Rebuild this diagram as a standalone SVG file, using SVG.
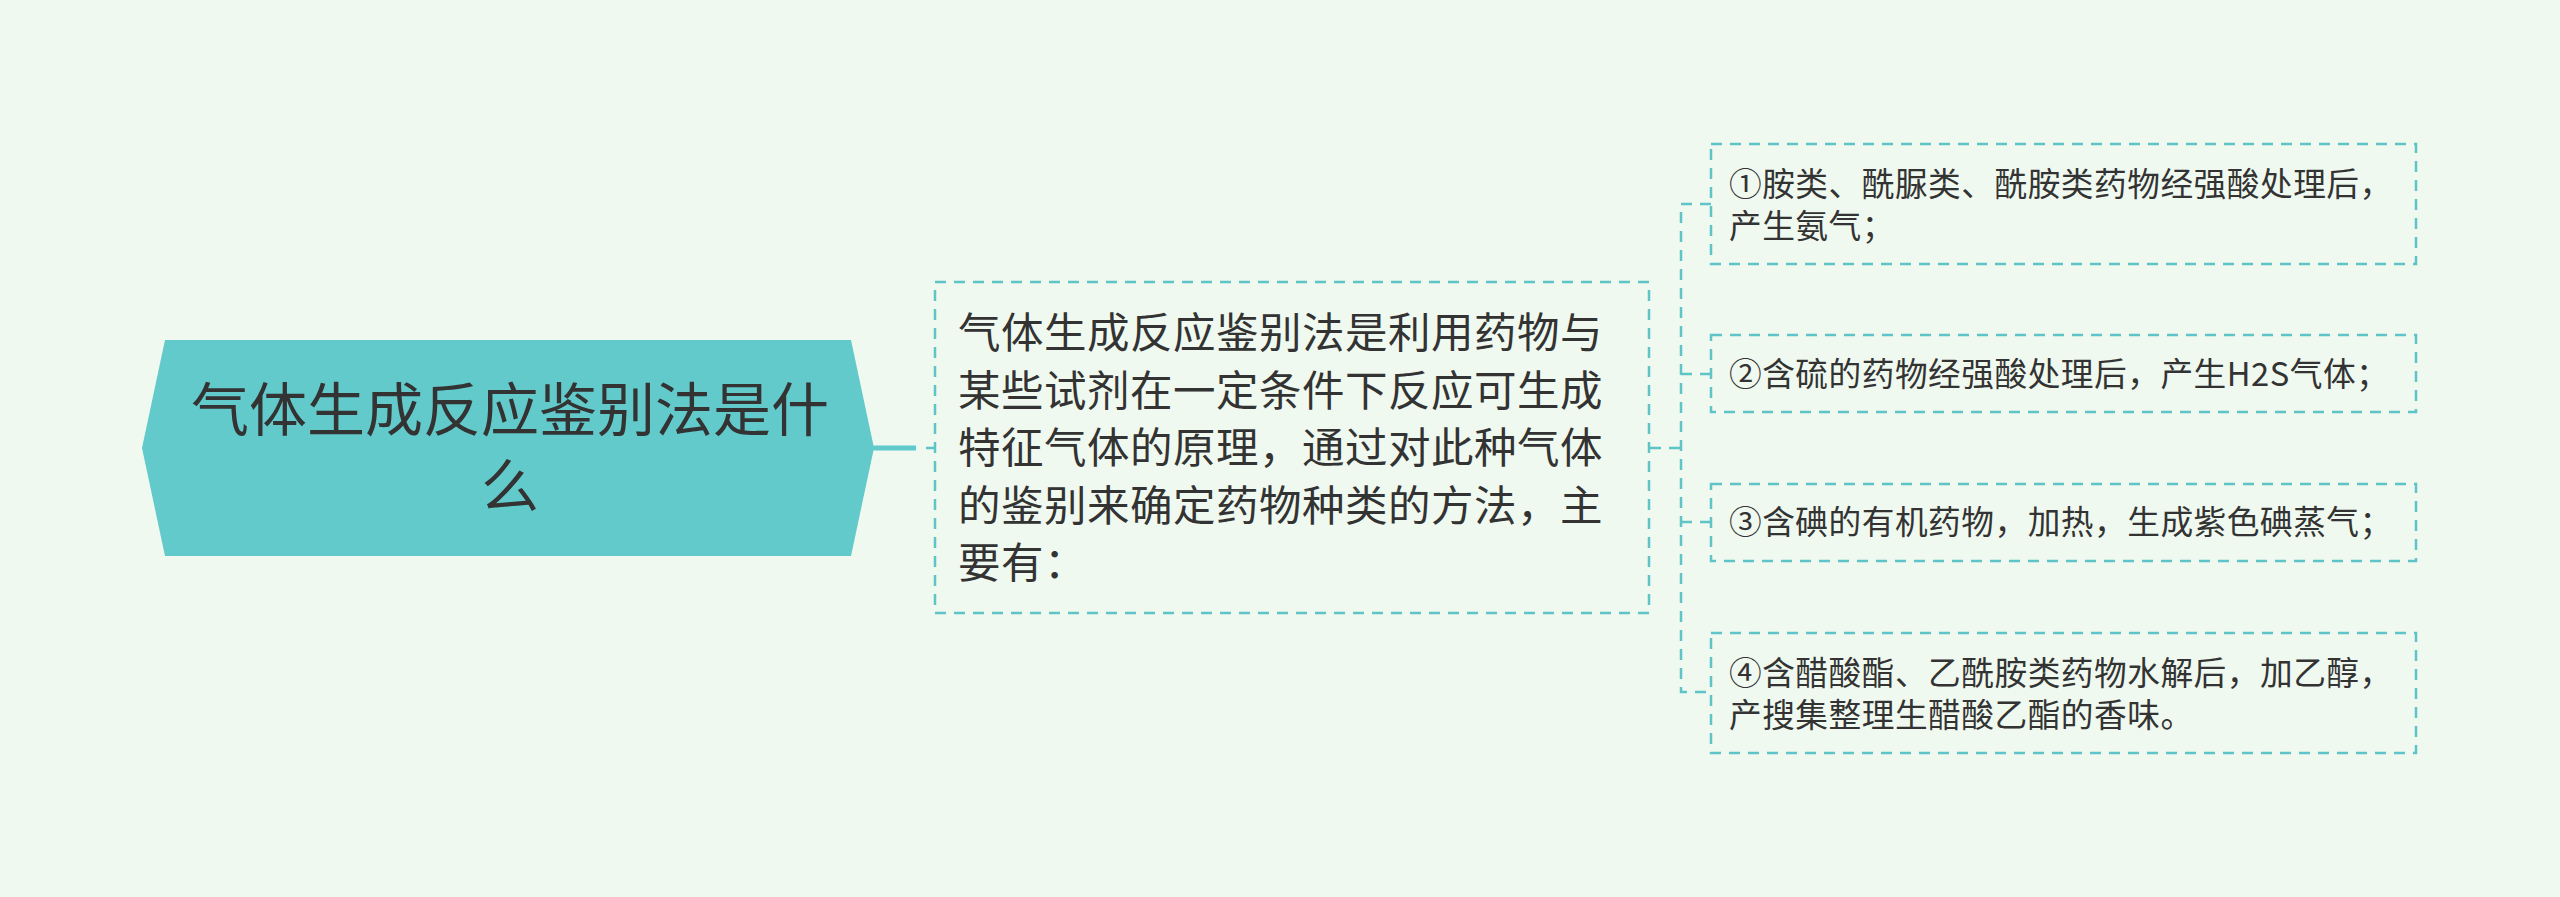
<svg xmlns="http://www.w3.org/2000/svg" width="2560" height="897" viewBox="0 0 2560 897">
<style>
.t{font-family:"Noto Sans CJK SC","Noto Sans",sans-serif;fill:#333333}
.root{font-size:58px}
.mid{font-size:42.5px}
.leaf{font-size:32.7px;letter-spacing:0.5px}
.box{fill:none;stroke:#5ec4c7;stroke-width:2.5;stroke-dasharray:11 8}
.dash{fill:none;stroke:#5ec4c7;stroke-width:2.5;stroke-dasharray:11 8}
</style>
<rect width="2560" height="897" fill="#f0f9ef"/>
<g id="connectors">
<line x1="873" y1="448" x2="916" y2="448" stroke="#63cacc" stroke-width="5"/>
<line x1="926" y1="448" x2="935" y2="448" class="dash"/>
<line x1="1650" y1="448" x2="1681" y2="448" class="dash"/>
<path d="M1711,204 H1681 V692 H1711" class="dash"/>
<line x1="1681" y1="374" x2="1711" y2="374" class="dash"/>
<line x1="1681" y1="522" x2="1711" y2="522" class="dash"/>
</g>
<g id="root">
<polygon points="142,448 165,340 851,340 874,448 851,556 165,556" fill="#63cacc"/>
<text class="t root" x="510" y="431" text-anchor="middle">气体生成反应鉴别法是什</text>
<text class="t root" x="510" y="507" text-anchor="middle">么</text>
</g>
<g id="main">
<rect x="935" y="282" width="714" height="331" class="box"/>
<text class="t mid" x="958" y="348" letter-spacing="0.5">气体生成反应鉴别法是利用药物与</text>
<text class="t mid" x="958" y="405.5" letter-spacing="0.5">某些试剂在一定条件下反应可生成</text>
<text class="t mid" x="958" y="463" letter-spacing="0.5">特征气体的原理，通过对此种气体</text>
<text class="t mid" x="958" y="520.5" letter-spacing="0.5">的鉴别来确定药物种类的方法，主</text>
<text class="t mid" x="958" y="578" letter-spacing="0.5">要有：</text>
</g>
<g id="leaf1">
<rect x="1711" y="144" width="705" height="120" class="box"/>
<text class="t leaf" x="1729" y="196">①胺类、酰脲类、酰胺类药物经强酸处理后，</text>
<text class="t leaf" x="1729" y="238">产生氨气；</text>
</g>
<g id="leaf2">
<rect x="1711" y="335" width="705" height="77" class="box"/>
<text class="t leaf" x="1729" y="386">②含硫的药物经强酸处理后，产生H2S气体；</text>
</g>
<g id="leaf3">
<rect x="1711" y="484" width="705" height="77" class="box"/>
<text class="t leaf" x="1729" y="534">③含碘的有机药物，加热，生成紫色碘蒸气；</text>
</g>
<g id="leaf4">
<rect x="1711" y="633" width="705" height="120" class="box"/>
<text class="t leaf" x="1729" y="685">④含醋酸酯、乙酰胺类药物水解后，加乙醇，</text>
<text class="t leaf" x="1729" y="727">产搜集整理生醋酸乙酯的香味。</text>
</g>
</svg>
